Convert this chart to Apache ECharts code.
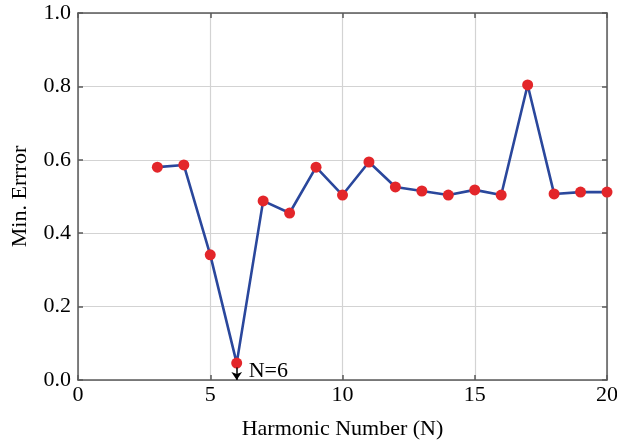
<!DOCTYPE html>
<html><head><meta charset="utf-8">
<script src="https://cdn.jsdelivr.net/npm/echarts@6/dist/echarts.min.js"></script>
<style>html,body{margin:0;padding:0;background:#fff}#c{width:617px;height:441px}</style>
</head><body><div id="c"></div>
<script>
const harmonics = [3,4,5,6,7,8,9,10,11,12,13,14,15,16,17,18,19,20];
const minError = [0.580,0.586,0.341,0.046,0.488,0.455,0.580,0.504,0.594,0.526,0.515,0.504,0.518,0.504,0.804,0.507,0.512,0.512];
const xTicks = [0,5,10,15,20];
const yTicks = [0.0,0.2,0.4,0.6,0.8,1.0];
const bestN = 6;
const bestLabel = 'N=6';

const font = 'Liberation Serif';
const chart = echarts.init(document.getElementById('c'), null, {renderer:'canvas'});
const frameColor = '#5a5a5a';
const axisCommon = {
  axisLine:{show:true,onZero:false,lineStyle:{color:frameColor,width:1.5}},
  axisTick:{show:true,inside:true,length:5,lineStyle:{color:frameColor,width:1.5}},
};
chart.setOption({
  animation:false,
  grid:{left:78,right:10,top:13,bottom:61,containLabel:false,outerBoundsMode:'none'},
  xAxis:[{
    type:'value',min:0,max:20,interval:5,position:'bottom',
    ...axisCommon,
    axisLabel:{fontFamily:font,fontSize:22,color:'#000',margin:4},
    splitLine:{show:true,lineStyle:{color:'#d3d3d3',width:1.2}},
    name:'Harmonic Number (N)',nameLocation:'middle',nameGap:38,
    nameTextStyle:{fontFamily:font,fontSize:22,color:'#000'}
  },{
    type:'value',min:0,max:20,interval:5,position:'top',
    ...axisCommon,axisLabel:{show:false},splitLine:{show:false}
  }],
  yAxis:[{
    type:'value',min:0,max:1,interval:0.2,position:'left',
    ...axisCommon,
    axisLabel:{fontFamily:font,fontSize:22,color:'#000',margin:7,formatter:v=>v.toFixed(1)},
    splitLine:{show:true,lineStyle:{color:'#d3d3d3',width:1.2}},
    name:'Min. Errror',nameLocation:'middle',nameGap:47,
    nameTextStyle:{fontFamily:font,fontSize:22,color:'#000'}
  },{
    type:'value',min:0,max:1,interval:0.2,position:'right',
    ...axisCommon,axisLabel:{show:false},splitLine:{show:false}
  }],
  series:[{
    type:'line',
    data:harmonics.map((h,i)=>[h,minError[i]]),
    symbol:'circle',symbolSize:11,
    lineStyle:{color:'#2a479c',width:2.6},
    itemStyle:{color:'#e3262a',borderWidth:0},
    z:3,
    markLine:{
      silent:true,symbol:['none','arrow'],symbolSize:[8,8],
      lineStyle:{color:'#000',width:1.5,type:'solid'},
      label:{show:false},
      data:[[{coord:[bestN,minError[harmonics.indexOf(bestN)]-0.012]},{coord:[bestN,0]}]]
    },
    markPoint:{
      silent:true,symbol:'circle',symbolSize:0,
      label:{show:true,position:'right',distance:12,formatter:bestLabel,fontFamily:font,fontSize:22,color:'#000'},
      data:[{coord:[bestN,0.025]}]
    }
  }]
});
</script></body></html>
